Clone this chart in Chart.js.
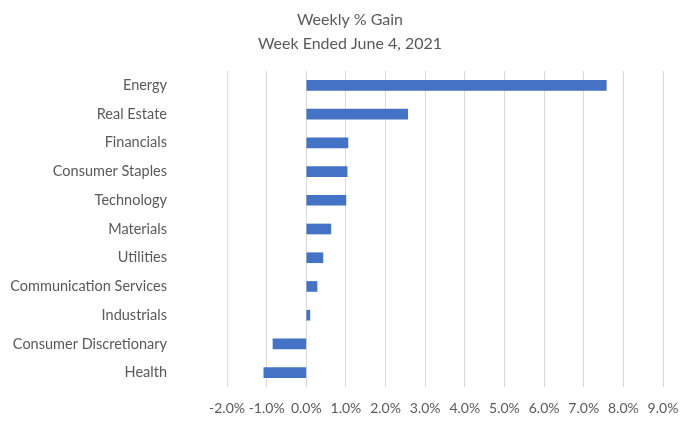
<!DOCTYPE html>
<html>
<head>
<meta charset="utf-8">
<script src="https://cdn.jsdelivr.net/npm/chart.js@4"></script>
<style>
  html, body { margin: 0; padding: 0; background: #fff; }
  canvas { display: block; }
</style>
</head>
<body>
<canvas id="gainChart" width="690" height="424"></canvas>
<script>
// sectors, top to bottom as in the picture
const sectors = ['Energy', 'Real Estate', 'Financials', 'Consumer Staples', 'Technology', 'Materials',
                 'Utilities', 'Communication Services', 'Industrials', 'Consumer Discretionary', 'Health'];
// weekly % gain
const gains = [7.57, 2.56, 1.05, 1.03, 1.00, 0.62, 0.42, 0.27, 0.09, -0.84, -1.07];
const titleLines = ['Weekly % Gain', 'Week Ended June 4, 2021'];
const xMin = -2, xMax = 9, xStep = 1;

const TEXT = '#595959', GRID = '#d9d9d9', BAR = '#4472c4';
const FONT = "Lato, 'Open Sans', sans-serif";
Chart.defaults.font.family = FONT;
Chart.defaults.color = TEXT;

// title drawn by hand so it can sit where Excel put it
const titlePlugin = {
    id: 'excelTitle',
    afterDraw(chart) {
        const c = chart.ctx;
        c.save();
        c.font = `16px ${FONT}`;
        c.fillStyle = TEXT;
        c.textAlign = 'center';
        c.textBaseline = 'middle';
        titleLines.forEach((t, i) => c.fillText(t, 350, 20 + i * 24));
        c.restore();
    }
};

new Chart(document.getElementById('gainChart'), {
    type: 'bar',
    data: { labels: sectors, datasets: [{ data: gains, backgroundColor: BAR, barThickness: 10, borderWidth: 0 }] },
    plugins: [titlePlugin],
    options: {
        indexAxis: 'y',
        responsive: false, animation: false, devicePixelRatio: 1,
        layout: { padding: { left: 0, right: 27, top: 71, bottom: 0 } },
        plugins: { legend: { display: false }, tooltip: { enabled: false }, title: { display: false } },
        scales: {
            x: {
                min: xMin, max: xMax,
                ticks: { stepSize: xStep, padding: 13, font: { size: 14 }, maxRotation: 0, minRotation: 0, autoSkip: false,
                         callback: v => v.toFixed(1) + '%' },
                grid: { color: GRID, lineWidth: 1, drawTicks: false },
                border: { display: false },
                afterFit: s => { s.height = 37; s.paddingLeft = 0; s.paddingRight = 0; }
            },
            y: {
                ticks: { padding: 60, font: { size: 14.5 } },
                grid: { display: false, drawTicks: false },
                border: { display: false },
                afterFit: s => { s.width = 227; s.paddingTop = 0; s.paddingBottom = 0; }
            }
        }
    }
});
</script>
</body>
</html>
